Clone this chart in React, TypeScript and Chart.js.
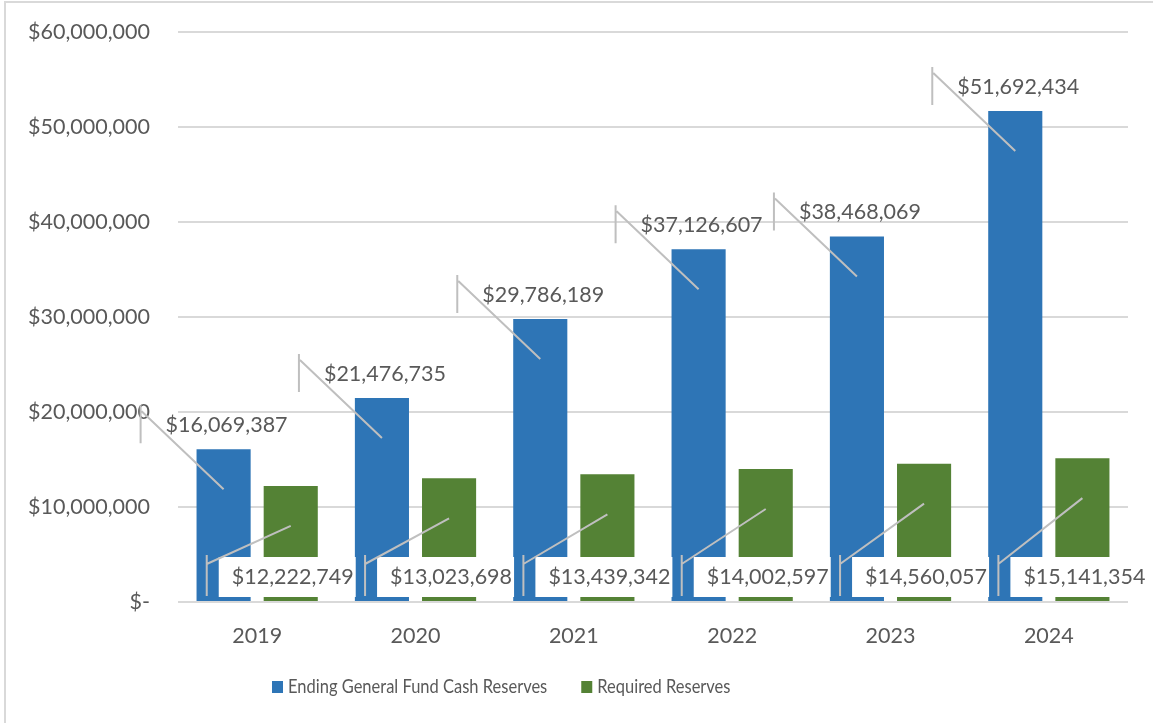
import React, { useEffect, useRef } from "react";
import { Chart, registerables } from "chart.js";

Chart.register(...registerables);

const categories = ["2019", "2020", "2021", "2022", "2023", "2024"];
const endingReserves = [16069387, 21476735, 29786189, 37126607, 38468069, 51692434];
const requiredReserves = [12222749, 13023698, 13439342, 14002597, 14560057, 15141354];
const seriesNames = ["Ending General Fund Cash Reserves", "Required Reserves"];
const seriesColors = ["#2E75B6", "#548235"];
const yMin = 0;
const yMax = 60000000;
const yStep = 10000000;

const FONT = "Lato";
const FS = 21.5;
const TEXT = "#595959";
const LEADER = "#BFBFBF";

const money = (v: number) => "$" + Math.round(v).toLocaleString("en-US");

const calloutPlugin = {
  id: "callouts",
  beforeDraw(chart: any) {
    const ctx = chart.ctx;
    ctx.save();
    ctx.strokeStyle = "#D9D9D9";
    ctx.lineWidth = 2;
    ctx.beginPath();
    ctx.moveTo(5, 723);
    ctx.lineTo(5, 2);
    ctx.lineTo(1153, 2);
    ctx.stroke();
    ctx.restore();
  },
  afterDatasetsDraw(chart: any) {
    const ctx = chart.ctx;
    const yScale = chart.scales.y;
    const zeroY = yScale.getPixelForValue(0);
    ctx.save();
    ctx.font = `${FS}px ${FONT}`;
    ctx.textBaseline = "middle";
    ctx.textAlign = "left";
    ctx.lineWidth = 2;
    ctx.strokeStyle = LEADER;

    // series 0: labels above bars
    const m0 = chart.getDatasetMeta(0);
    m0.data.forEach((el: any, i: number) => {
      const top = el.y;
      const vx = el.x - 83;
      ctx.beginPath();
      ctx.moveTo(vx, top - 44);
      ctx.lineTo(vx, top - 6);
      ctx.moveTo(vx + 1, top - 38);
      ctx.lineTo(el.x, top + 40);
      ctx.stroke();
      ctx.fillStyle = TEXT;
      ctx.fillText(money(chart.data.datasets[0].data[i]), el.x - 58, top - 24);
    });

    // series 1: labels near the base, on white boxes
    const m1 = chart.getDatasetMeta(1);
    m1.data.forEach((el: any, i: number) => {
      const txt = money(chart.data.datasets[1].data[i]);
      const w = ctx.measureText(txt).width;
      const tx = el.x - 59;
      ctx.fillStyle = "#FFFFFF";
      ctx.fillRect(tx - 13, zeroY - 45, w + 15, 40);
    });
    m1.data.forEach((el: any, i: number) => {
      const vx = el.x - 84;
      ctx.beginPath();
      ctx.moveTo(vx, zeroY - 47);
      ctx.lineTo(vx, zeroY - 6);
      ctx.moveTo(vx, zeroY - 38);
      ctx.lineTo(el.x, el.y + 40);
      ctx.stroke();
      ctx.fillStyle = TEXT;
      ctx.fillText(money(chart.data.datasets[1].data[i]), el.x - 59, zeroY - 25);
    });
    ctx.restore();
  },
  afterDraw(chart: any) {
    // legend (narrowed horizontally to mimic the condensed original face)
    const ctx = chart.ctx;
    const sx = 0.868;
    ctx.save();
    ctx.font = `19px ${FONT}`;
    ctx.textBaseline = "middle";
    ctx.textAlign = "left";
    let x = 272;
    const y = 687;
    chart.data.datasets.forEach((ds: any) => {
      ctx.fillStyle = ds.backgroundColor;
      ctx.fillRect(x, y - 6, 11, 12);
      ctx.fillStyle = TEXT;
      const tx = x + 16;
      ctx.save();
      ctx.translate(tx, y);
      ctx.scale(sx, 1);
      ctx.fillText(ds.label, 0, 0);
      ctx.restore();
      x = tx + ctx.measureText(ds.label).width * sx + 34;
    });
    ctx.restore();
  },
};

export default function App() {
  const ref = useRef<HTMLCanvasElement | null>(null);
  useEffect(() => {
    document.body.style.margin = "0";
    const canvas = ref.current!;
    const chart = new Chart(canvas, {
      type: "bar",
      data: {
        labels: categories,
        datasets: [
          {
            label: seriesNames[0],
            data: endingReserves,
            backgroundColor: seriesColors[0],
            categoryPercentage: 0.848,
            barPercentage: 0.806,
          },
          {
            label: seriesNames[1],
            data: requiredReserves,
            backgroundColor: seriesColors[1],
            categoryPercentage: 0.848,
            barPercentage: 0.806,
          },
        ],
      },
      options: {
        responsive: false,
        animation: false,
        layout: { padding: { left: 0, top: 32, right: 25, bottom: 71 } },
        plugins: {
          legend: { display: false },
          tooltip: { enabled: false },
        },
        scales: {
          x: {
            grid: { display: false },
            border: { display: false },
            ticks: { font: { family: FONT, size: FS }, color: TEXT, padding: 13 },
            afterFit(scale: any) {
              scale.height = 50;
            },
          },
          y: {
            min: yMin,
            max: yMax,
            ticks: {
              stepSize: yStep,
              font: { family: FONT, size: FS },
              color: TEXT,
              padding: 28,
              callback: (v: any) => (Number(v) === 0 ? "$-" : money(Number(v))),
            },
            grid: { color: "#D9D9D9", lineWidth: 2, drawTicks: false },
            border: { display: false },
            afterFit(scale: any) {
              scale.width = 178;
              scale.paddingTop = 0;
              scale.paddingBottom = 0;
            },
          },
        },
      },
      plugins: [calloutPlugin],
    });
    return () => chart.destroy();
  }, []);
  return <canvas ref={ref} width={1153} height={723} style={{ display: "block" }} />;
}
